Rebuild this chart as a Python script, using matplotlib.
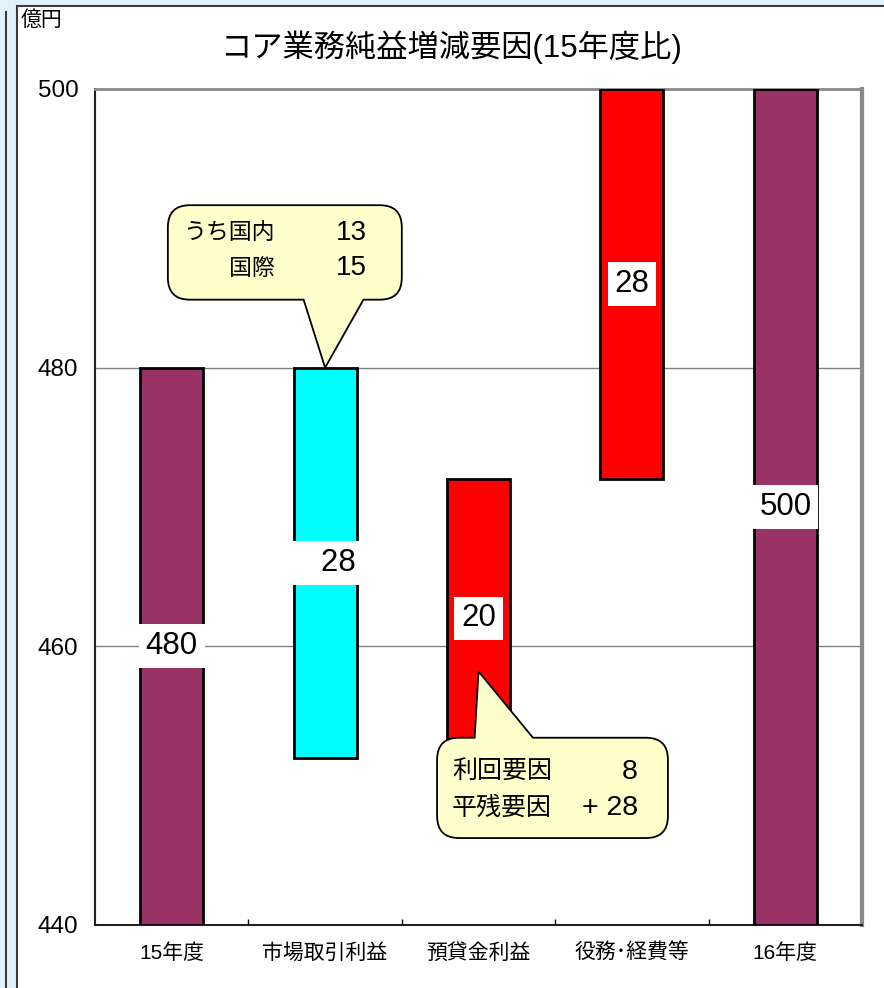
import numpy as np
import matplotlib
matplotlib.use('Agg')
import matplotlib.pyplot as plt
from matplotlib.patches import Rectangle, PathPatch
from matplotlib.path import Path
from matplotlib.lines import Line2D
from matplotlib.transforms import IdentityTransform

# 字体：数字用 Liberation Sans，日文回落到 Noto Sans CJK JP
plt.rcParams['font.family'] = ['Liberation Sans', 'Noto Sans CJK JP']

# 数据
categories = ['15年度', '市場取引利益', '預貸金利益', '役務･経費等', '16年度']
start_value = 480
changes = [-28, 20, 28]
end_value = 500
bar_labels = ['480', '   28', '20', '28', '500']
bar_colors = ['#993366', '#00FFFF', '#FF0000', '#FF0000', '#993366']
y_floor = 440
y_top = 500
y_ticks = [440, 460, 480, 500]

bubble1_rows = [('うち国内', '13'), ('国際', '15')]
bubble2_rows = [('利回要因', '8'), ('平残要因', '+ 28')]
bubble1_tip = (1, 480)
bubble2_tip = (2, 458.2)

# 计算瀑布图各柱的上下端
bottoms = [y_floor]
tops = [start_value]
level = start_value
for c in changes:
    new_level = level + c
    bottoms.append(min(level, new_level))
    tops.append(max(level, new_level))
    level = new_level
bottoms.append(y_floor)
tops.append(end_value)
heights = [t - b for t, b in zip(tops, bottoms)]

W, H = 884, 988
fig = plt.figure(figsize=(W / 100, H / 100), dpi=100)
fig.patch.set_facecolor('#E1F2FD')

# 白色面板 + 左侧竖线
fig.patches.append(Rectangle((17 / W, -0.02), 1.0, (H - 6) / H + 0.02,
                             transform=fig.transFigure, facecolor='white',
                             edgecolor='#3a3a3a', linewidth=1.5, zorder=-1))
fig.lines.append(Line2D([6 / W, 6 / W], [0, 1 - 12 / H], transform=fig.transFigure,
                        color='#3a3a3a', linewidth=1.5))

ax = fig.add_axes([95 / W, 1 - 925 / H, 767 / W, 836 / H])
ax.set_facecolor('white')

x = np.arange(len(categories))
ax.bar(x, heights, bottom=bottoms, width=0.41, color=bar_colors,
       edgecolor='black', linewidth=2, zorder=3)

for i, lbl in enumerate(bar_labels):
    ax.text(x[i], (bottoms[i] + tops[i]) / 2, lbl, ha='center', va='center',
            fontsize=22.5, zorder=4,
            bbox=dict(boxstyle='square,pad=0.22', facecolor='white', edgecolor='none'))

ax.set_xlim(-0.5, len(categories) - 0.5)
ax.set_ylim(y_floor, y_top)
ax.set_yticks(y_ticks)
ax.tick_params(axis='y', length=0, pad=12, labelsize=17.5)
ax.set_xticks(x)
ax.set_xticklabels(categories, fontsize=15)
ax.tick_params(axis='x', which='major', length=0, pad=13)
ax.set_xticks(x[:-1] + 0.5, minor=True)
ax.tick_params(axis='x', which='minor', direction='in', length=4, width=1, color='black')

ax.set_axisbelow(True)
ax.yaxis.grid(True, color='#808080', linewidth=1)
ax.spines['left'].set_color('#222222')
ax.spines['left'].set_linewidth(1.5)
ax.spines['bottom'].set_color('#222222')
ax.spines['bottom'].set_linewidth(1.5)
ax.spines['top'].set_color('#8a8a8a')
ax.spines['top'].set_linewidth(2)
ax.spines['right'].set_color('#8a8a8a')
ax.spines['right'].set_linewidth(3)

# 标题与单位
fig.text(451 / W, 1 - 47 / H, 'コア業務純益増減要因(15年度比)', ha='center', va='center', fontsize=22.5)
fig.text(21 / W, 1 - 20 / H, '億円', ha='left', va='center', fontsize=15)


def bubble(box, base, tip, r=22):
    # box: (x0, y0, x1, y1) 轴坐标；base: 尖角底边 x 范围（轴坐标）；tip: 数据坐标
    X0, Y0 = ax.transAxes.transform((box[0], box[1]))
    X1, Y1 = ax.transAxes.transform((box[2], box[3]))
    bx0 = ax.transAxes.transform((base[0], 0))[0]
    bx1 = ax.transAxes.transform((base[1], 0))[0]
    tx, ty = ax.transData.transform(tip)
    M, L, C = Path.MOVETO, Path.LINETO, Path.CURVE3
    verts = [(X0 + r, Y0)]
    codes = [M]
    if ty < Y0:
        verts += [(bx0, Y0), (tx, ty), (bx1, Y0)]
        codes += [L, L, L]
    verts += [(X1 - r, Y0), (X1, Y0), (X1, Y0 + r), (X1, Y1 - r), (X1, Y1), (X1 - r, Y1)]
    codes += [L, C, C, L, C, C]
    if ty > Y1:
        verts += [(bx1, Y1), (tx, ty), (bx0, Y1)]
        codes += [L, L, L]
    verts += [(X0 + r, Y1), (X0, Y1), (X0, Y1 - r), (X0, Y0 + r), (X0, Y0), (X0 + r, Y0)]
    codes += [L, C, C, L, C, C]
    patch = PathPatch(Path(verts, codes), transform=IdentityTransform(),
                      facecolor='#FFFFCC', edgecolor='black', linewidth=1.3, zorder=5)
    fig.add_artist(patch)


bubble((0.095, 0.748, 0.400, 0.861), (0.272, 0.350), bubble1_tip)
bubble((0.446, 0.104, 0.747, 0.224), (0.495, 0.571), bubble2_tip)

for (name, val), yy in zip(bubble1_rows, [0.8278, 0.7859]):
    fig.text(0.2347, yy, name, ha='right', va='center', fontsize=16.5,
             transform=ax.transAxes, zorder=6)
    fig.text(0.3546, yy, val, ha='right', va='center', fontsize=20,
             transform=ax.transAxes, zorder=6)

for (name, val), yy in zip(bubble2_rows, [0.183, 0.140]):
    fig.text(0.4654, yy, name, ha='left', va='center', fontsize=18,
             transform=ax.transAxes, zorder=6)
    fig.text(0.708, yy, val, ha='right', va='center', fontsize=20.5,
             transform=ax.transAxes, zorder=6)

fig.savefig('out.png', dpi=100, facecolor=fig.get_facecolor())
